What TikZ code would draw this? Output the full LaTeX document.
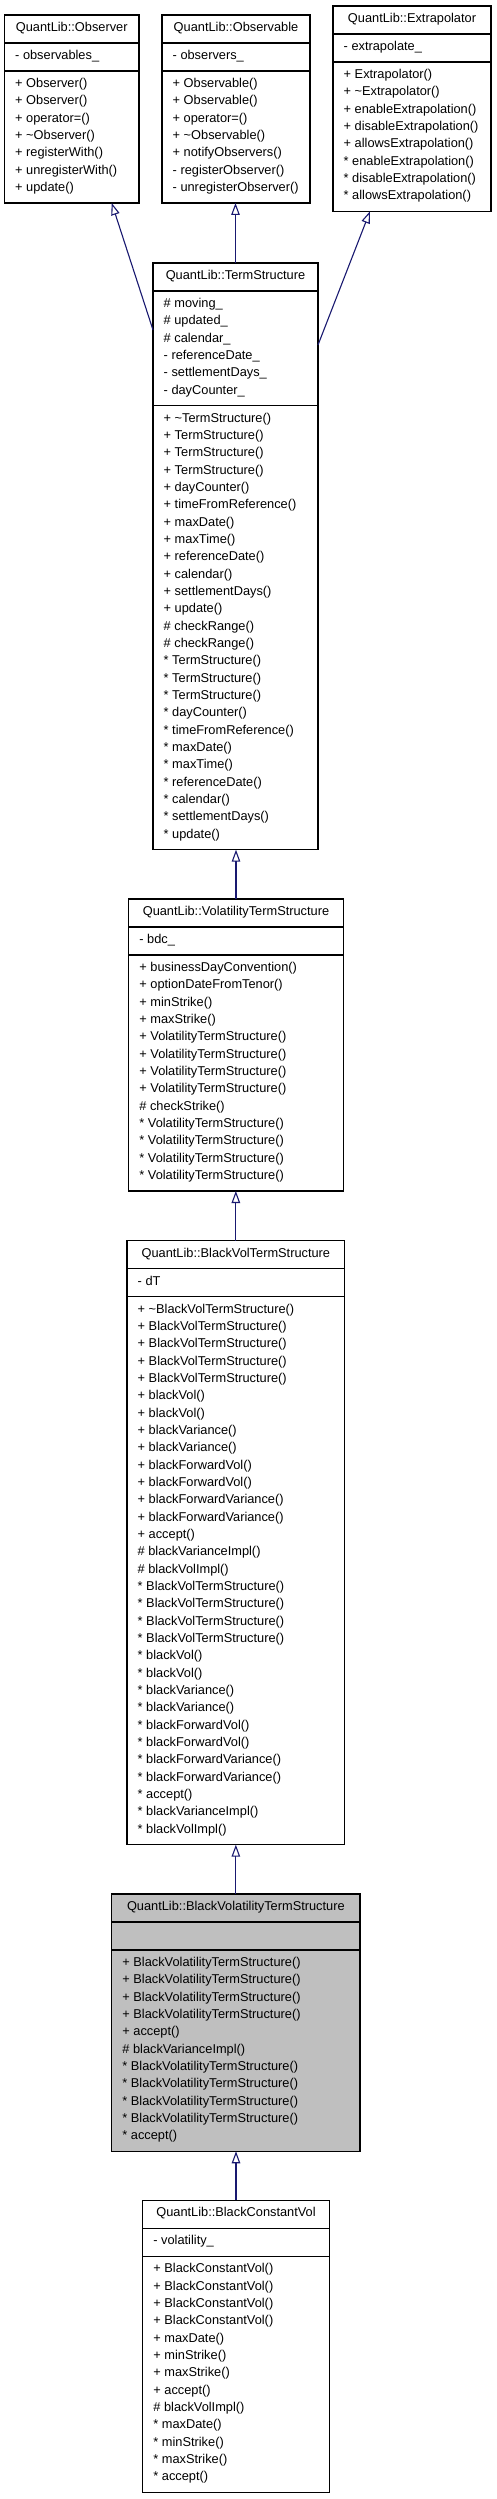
\documentclass[tikz,border=0pt]{standalone}
\usepackage{fontspec}
\setmainfont{Liberation Sans}
\usetikzlibrary{arrows.meta}
\definecolor{edgeblue}{HTML}{191970}
\definecolor{hilite}{HTML}{BFBFBF}
\tikzset{
  cls/.style={draw=black, line width=1.1pt, inner sep=0pt, outer sep=0pt, anchor=north west},
  sepline/.style={draw=black, line width=1.1pt},
  txt/.style={font=\fontsize{12.8}{15}\selectfont, inner sep=0pt, outer sep=0pt, anchor=west, text height=9.2pt, text depth=2.6pt},
  inh/.style={draw=edgeblue, line width=1.1pt, -{Triangle[open, length=12pt, width=8.5pt]}}
}
\newcommand\klass[8]{%
  \node[cls, fill=#7, minimum width=#4pt, minimum height=#5pt] (#1) at (#2,#3) {};
  \draw[sepline] ([yshift=-28pt]#1.north west) -- ([yshift=-28pt]#1.north east);
  \draw[sepline] ([yshift=-#6pt]#1.north west) -- ([yshift=-#6pt]#1.north east);
  \node[txt, anchor=center] (#1-title) at ([yshift=-13.3pt]#1.north) {#8};
}
\newcommand\rows[4]{%
  \foreach \t [count=\i from 0] in {#4} {
    \node[txt] (#1-\i) at (#2, {#3+17.33*\i}) {\t};
  }
}
\begin{document}
\begin{tikzpicture}[x=1pt,y=-1pt]
\fill[white] (0,0) rectangle (496,2499);
\useasboundingbox (0,0) rectangle (496,2499);

% Observer
\klass{obs}{4.5}{15}{134.5}{188}{56}{white}{QuantLib::Observer}
\rows{obsa}{15.2}{56.3}{- observables\_}
\rows{obsm}{15.2}{84.3}{+ Observer(),+ Observer(),+ operator=(),+ \textasciitilde Observer(),+ registerWith(),+ unregisterWith(),+ update()}

% Observable
\klass{obsv}{162}{15}{148}{188}{56}{white}{QuantLib::Observable}
\rows{obsva}{172.7}{56.3}{- observers\_}
\rows{obsvm}{172.7}{84.3}{+ Observable(),+ Observable(),+ operator=(),+ \textasciitilde Observable(),+ notifyObservers(),- registerObserver(),- unregisterObserver()}

% Extrapolator
\klass{ext}{333}{6}{158}{205.3}{56}{white}{QuantLib::Extrapolator}
\rows{exta}{343.7}{47.3}{- extrapolate\_}
\rows{extm}{343.7}{75.3}{+ Extrapolator(),+ \textasciitilde Extrapolator(),+ enableExtrapolation(),+ disableExtrapolation(),+ allowsExtrapolation(),* enableExtrapolation(),* disableExtrapolation(),* allowsExtrapolation()}

% TermStructure
\klass{ts}{153}{263}{165}{586.7}{142.7}{white}{QuantLib::TermStructure}
\rows{tsa}{163.7}{304.3}{\# moving\_,\# updated\_,\# calendar\_,- referenceDate\_,- settlementDays\_,- dayCounter\_}
\rows{tsm}{163.7}{419}{+ \textasciitilde TermStructure(),+ TermStructure(),+ TermStructure(),+ TermStructure(),+ dayCounter(),+ timeFromReference(),+ maxDate(),+ maxTime(),+ referenceDate(),+ calendar(),+ settlementDays(),+ update(),\# checkRange(),\# checkRange(),* TermStructure(),* TermStructure(),* TermStructure(),* dayCounter(),* timeFromReference(),* maxDate(),* maxTime(),* referenceDate(),* calendar(),* settlementDays(),* update()}

% VolatilityTermStructure
\klass{vts}{128.7}{899}{214.6}{292}{56}{white}{QuantLib::VolatilityTermStructure}
\rows{vtsa}{139.4}{940.3}{- bdc\_}
\rows{vtsm}{139.4}{968.3}{+ businessDayConvention(),+ optionDateFromTenor(),+ minStrike(),+ maxStrike(),+ VolatilityTermStructure(),+ VolatilityTermStructure(),+ VolatilityTermStructure(),+ VolatilityTermStructure(),\# checkStrike(),* VolatilityTermStructure(),* VolatilityTermStructure(),* VolatilityTermStructure(),* VolatilityTermStructure()}

% BlackVolTermStructure
\klass{bvts}{127}{1240.7}{217.7}{604}{56}{white}{QuantLib::BlackVolTermStructure}
\rows{bvtsa}{137.7}{1282}{- dT}
\rows{bvtsm}{137.7}{1310}{+ \textasciitilde BlackVolTermStructure(),+ BlackVolTermStructure(),+ BlackVolTermStructure(),+ BlackVolTermStructure(),+ BlackVolTermStructure(),+ blackVol(),+ blackVol(),+ blackVariance(),+ blackVariance(),+ blackForwardVol(),+ blackForwardVol(),+ blackForwardVariance(),+ blackForwardVariance(),+ accept(),\# blackVarianceImpl(),\# blackVolImpl(),* BlackVolTermStructure(),* BlackVolTermStructure(),* BlackVolTermStructure(),* BlackVolTermStructure(),* blackVol(),* blackVol(),* blackVariance(),* blackVariance(),* blackForwardVol(),* blackForwardVol(),* blackForwardVariance(),* blackForwardVariance(),* accept(),* blackVarianceImpl(),* blackVolImpl()}

% BlackVolatilityTermStructure (highlighted)
\klass{bvol}{111.7}{1894}{248.3}{257.3}{56}{hilite}{QuantLib::BlackVolatilityTermStructure}
\rows{bvolm}{122.4}{1963.3}{+ BlackVolatilityTermStructure(),+ BlackVolatilityTermStructure(),+ BlackVolatilityTermStructure(),+ BlackVolatilityTermStructure(),+ accept(),\# blackVarianceImpl(),* BlackVolatilityTermStructure(),* BlackVolatilityTermStructure(),* BlackVolatilityTermStructure(),* BlackVolatilityTermStructure(),* accept()}

% BlackConstantVol
\klass{bcv}{142.7}{2200.3}{186.6}{292}{56}{white}{QuantLib::BlackConstantVol}
\rows{bcva}{153.4}{2241.6}{- volatility\_}
\rows{bcvm}{153.4}{2269.6}{+ BlackConstantVol(),+ BlackConstantVol(),+ BlackConstantVol(),+ BlackConstantVol(),+ maxDate(),+ minStrike(),+ maxStrike(),+ accept(),\# blackVolImpl(),* maxDate(),* minStrike(),* maxStrike(),* accept()}

% inheritance connectors
\draw[inh] ([yshift=-67pt]ts.north west) -- ([xshift=107.2pt]obs.south west);
\draw[inh] (ts.north) -- (ts.north |- obsv.south);
\draw[inh] ([yshift=-82pt]ts.north east) -- ([xshift=37pt]ext.south west);
\draw[inh] (vts.north) -- (vts.north |- ts.south);
\draw[inh] (bvts.north) -- (bvts.north |- vts.south);
\draw[inh] (bvol.north) -- (bvol.north |- bvts.south);
\draw[inh] (bcv.north) -- (bcv.north |- bvol.south);
\end{tikzpicture}
\end{document}
